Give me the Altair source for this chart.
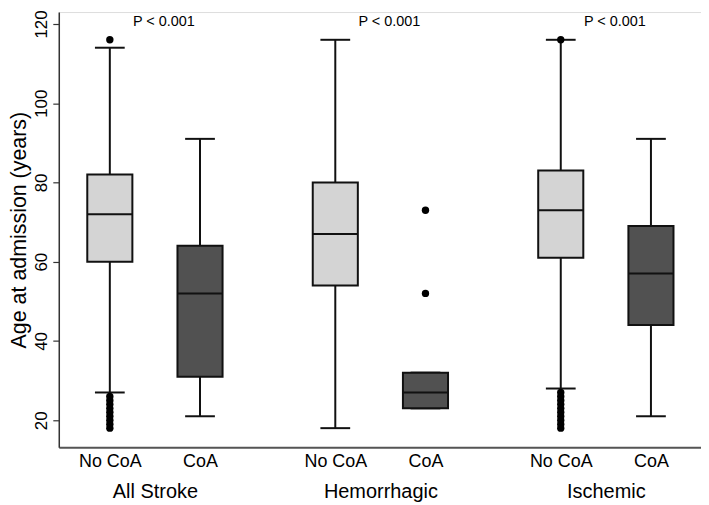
import altair as alt
import pandas as pd

# ---- data ----
groups = ["All Stroke", "Hemorrhagic", "Ischemic"]
categories = ["No CoA", "CoA"]
q1 = [60, 31, 54, 23, 61, 44]
median = [72, 52, 67, 27, 73, 57]
q3 = [82, 64, 80, 32, 83, 69]
whisker_low = [27, 21, 18, 23, 28, 21]
whisker_high = [114, 91, 116, 32, 116, 91]
outlier_box = [0] * 10 + [3, 3] + [4] * 11
outlier_value = list(range(18, 27)) + [116] + [52, 73] + list(range(18, 28)) + [116]
p_labels = ["P < 0.001", "P < 0.001", "P < 0.001"]
y_ticks = [20, 40, 60, 80, 100, 120]

FONT = "Liberation Sans"
INK = "#111111"

# positions: groups separated by a wider gap
def box_pos(i):
    return 1 + (i // 2) * 2.5 + (i % 2)

box_df = pd.DataFrame({
    "pos": [box_pos(i) for i in range(6)],
    "group": [groups[i // 2] for i in range(6)],
    "cat": [categories[i % 2] for i in range(6)],
    "q1": q1, "med": median, "q3": q3, "wlo": whisker_low, "whi": whisker_high,
})
out_df = pd.DataFrame({
    "pos": [box_pos(b) for b in outlier_box],
    "value": outlier_value,
})
p_df = pd.DataFrame({
    "pos": [1.5 + g * 2.5 for g in range(3)],
    "label": p_labels,
})

tick_vals = [box_pos(i) for i in range(6)]
group_vals = [1.5 + g * 2.5 for g in range(3)]

# label expression built from the lists
expr_parts = []
for v, g in zip(group_vals, groups):
    expr_parts.append(f"datum.value == {v} ? ['', '{g}']")
for i, v in enumerate(tick_vals):
    expr_parts.append(f"datum.value == {v} ? '{categories[i % 2]}'")
label_expr = " : ".join(expr_parts) + " : ''"
group_test = " || ".join(f"datum.value == {v}" for v in group_vals)

x_scale = alt.Scale(domain=[0.434, 7.555], nice=False, zero=False)
y_scale = alt.Scale(domain=[13.2, 123.0], nice=False, zero=False)

x_axis = alt.Axis(
    title=None, values=tick_vals + group_vals, labelExpr=label_expr,
    ticks=False, grid=False, labelOverlap=False, labelFlush=False,
    labelFontSize={"condition": {"test": group_test, "value": 20}, "value": 18},
    labelLineHeight=30, labelPadding=5, labelColor="#000000",
    domainColor="#555555", domainWidth=2,
)
y_axis = alt.Axis(
    title="Age at admission (years)", values=y_ticks, grid=False,
    labelAngle=-90, labelAlign="center", labelBaseline="bottom",
    labelFontSize=17, labelPadding=2, labelColor="#000000",
    tickSize=6, tickColor="#333333", tickWidth=1.2,
    titleFontSize=21.5, titleFontWeight="normal", titleColor="#000000", titlePadding=2,
    domainColor="#333333", domainWidth=1.5,
)


def X(field):
    return alt.X(field, type="quantitative", scale=x_scale, axis=x_axis)


def Y(field):
    return alt.Y(field, type="quantitative", scale=y_scale, axis=y_axis)


base = alt.Chart(box_df)

whisk_lo = base.mark_rule(color=INK, strokeWidth=2).encode(x=X("pos"), y=Y("wlo"), y2="q1")
whisk_hi = base.mark_rule(color=INK, strokeWidth=2).encode(x=X("pos"), y=Y("q3"), y2="whi")

caps = base.transform_calculate(cl="datum.pos - 0.165", cr="datum.pos + 0.165")
cap_lo = caps.mark_rule(color=INK, strokeWidth=2).encode(x=X("cl"), x2="cr", y=Y("wlo"))
cap_hi = caps.mark_rule(color=INK, strokeWidth=2).encode(x=X("cl"), x2="cr", y=Y("whi"))

halves = base.transform_calculate(bl="datum.pos - 0.25", br="datum.pos + 0.25")
boxes = halves.mark_rect(stroke=INK, strokeWidth=2).encode(
    x=X("bl"), x2="br", y=Y("q1"), y2="q3",
    fill=alt.Fill("cat:N", scale=alt.Scale(domain=categories, range=["#d4d4d4", "#515151"]), legend=None),
)
medians = halves.mark_rule(color=INK, strokeWidth=2).encode(x=X("bl"), x2="br", y=Y("med"))

outliers = alt.Chart(out_df).mark_circle(color="#000000", size=55, opacity=1).encode(
    x=X("pos"), y=Y("value")
)

ptext = alt.Chart(p_df).mark_text(font=FONT, fontSize=14.5, color="#000000", dx=9, baseline="middle").encode(
    x=X("pos"), y=alt.Y(datum=120.5, type="quantitative", scale=y_scale, axis=y_axis), text="label:N"
)

chart = alt.layer(whisk_lo, whisk_hi, cap_lo, cap_hi, boxes, medians, outliers, ptext).properties(
    width=645, height=437, padding={"left": 1, "top": 0, "right": 0, "bottom": 0}
).configure_view(stroke=None).configure_axis(
    labelFont=FONT, titleFont=FONT
).configure(background="white")

chart.save("out.html", embed_options={"renderer": "svg", "actions": False})
